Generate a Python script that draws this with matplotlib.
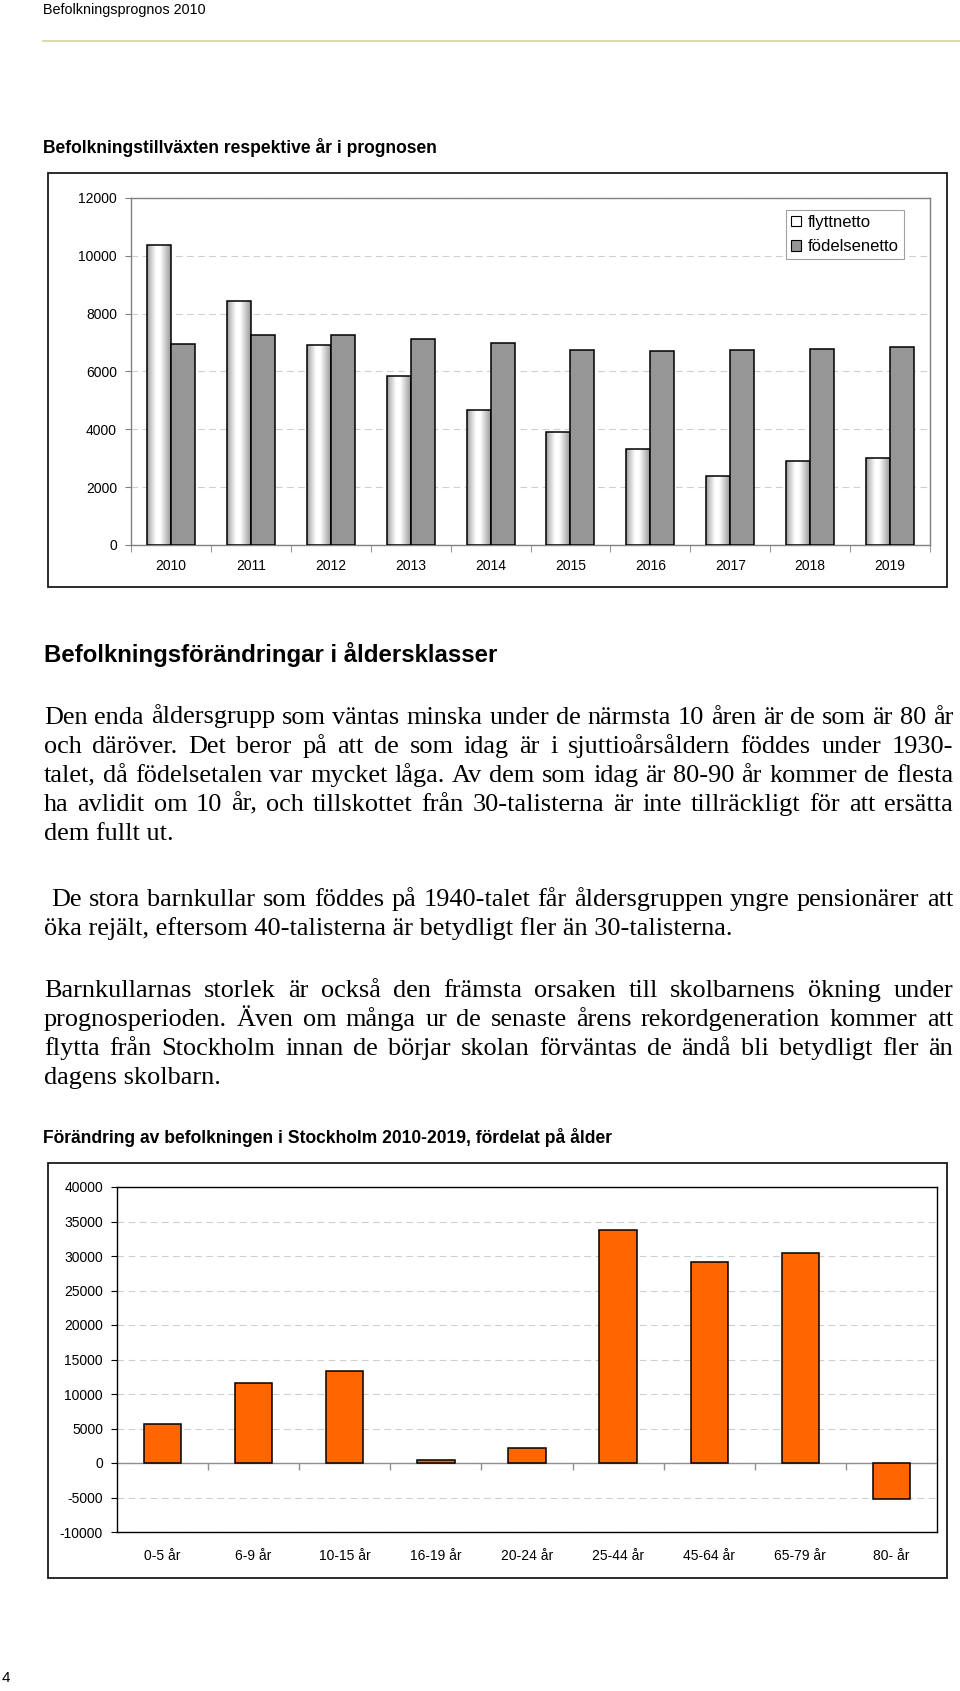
import numpy as np
import matplotlib
matplotlib.use('Agg')
import matplotlib.pyplot as plt
from matplotlib.patches import Rectangle, Patch
from matplotlib.lines import Line2D

W, H = 960, 1691
SANS = 'Liberation Sans'
SERIF = 'Liberation Serif'

# chart 1: befolkningstillväxt per år
years = ['2010', '2011', '2012', '2013', '2014', '2015', '2016', '2017', '2018', '2019']
flyttnetto = [10370, 8450, 6900, 5830, 4670, 3900, 3320, 2370, 2910, 3020]
fodelsenetto = [6950, 7260, 7260, 7130, 6980, 6750, 6720, 6750, 6790, 6830]
series_labels = ['flyttnetto', 'födelsenetto']

# chart 2: förändring per åldersgrupp 2010-2019
age_groups = ['0-5 år', '6-9 år', '10-15 år', '16-19 år', '20-24 år',
              '25-44 år', '45-64 år', '65-79 år', '80- år']
age_change = [5600, 11550, 13350, 480, 2220, 33800, 29100, 30400, -5200]

para1 = ["Den enda åldersgrupp som väntas minska under de närmsta 10 åren är de som är 80 år",
         "och däröver. Det beror på att de som idag är i sjuttioårsåldern föddes under 1930-",
         "talet, då födelsetalen var mycket låga. Av dem som idag är 80-90 år kommer de flesta",
         "ha avlidit om 10 år, och tillskottet från 30-talisterna är inte tillräckligt för att ersätta",
         "dem fullt ut."]
para2 = ["De stora barnkullar som föddes på 1940-talet får åldersgruppen yngre pensionärer att",
         "öka rejält, eftersom 40-talisterna är betydligt fler än 30-talisterna."]
para3 = ["Barnkullarnas storlek är också den främsta orsaken till skolbarnens ökning under",
         "prognosperioden. Även om många ur de senaste årens rekordgeneration kommer att",
         "flytta från Stockholm innan de börjar skolan förväntas de ändå bli betydligt fler än",
         "dagens skolbarn."]

plt.rcParams['font.family'] = [SANS, 'DejaVu Sans']
plt.rcParams['axes.unicode_minus'] = False

fig = plt.figure(figsize=(W / 100, H / 100), dpi=100)
fig.patch.set_facecolor('white')
renderer = fig.canvas.get_renderer()


def fx(x):
    return x / W


def fy(y):
    return 1 - y / H


def axes_px(left, top, right, bottom):
    return fig.add_axes([fx(left), fy(bottom), (right - left) / W, (bottom - top) / H])


def fit_text(x, y, s, width, **kw):
    """place text at pixel baseline and scale font to given pixel width"""
    t = fig.text(fx(x), fy(y), s, fontsize=10, va='baseline', ha='left', **kw)
    w = t.get_window_extent(renderer).width
    t.set_fontsize(10 * width / w)
    return t


def draw_paragraph(lines, x0, x1, y0, step, size, first_indent=0):
    for i, line in enumerate(lines):
        y = y0 + i * step
        left = x0 + (first_indent if i == 0 else 0)
        if i == len(lines) - 1:
            fig.text(fx(left), fy(y), line, family=SERIF, fontsize=size, va='baseline')
            continue
        words = line.split(' ')
        texts = [fig.text(0, fy(y), w, family=SERIF, fontsize=size, va='baseline') for w in words]
        widths = [t.get_window_extent(renderer).width for t in texts]
        gap = (x1 - left - sum(widths)) / (len(words) - 1)
        x = left
        for t, wd in zip(texts, widths):
            t.set_x(fx(x))
            x += wd + gap


# page header
fit_text(43, 14, 'Befolkningsprognos 2010', 163)
fig.add_artist(Line2D([fx(43), fx(960)], [fy(41), fy(41)], color='#d8d2a0', lw=1.2))

fit_text(43, 153, 'Befolkningstillväxten respektive år i prognosen', 396, weight='bold')

# ---- chart 1 ----
fig.add_artist(Rectangle((fx(48), fy(587)), (947 - 48) / W, (587 - 173) / H, fill=False,
                         ec='#1a1a1a', lw=1.3, transform=fig.transFigure))
ax1 = axes_px(131, 198, 930, 545)
x = np.arange(len(years))
bars_f = ax1.bar(x - 0.15, flyttnetto, 0.3, facecolor='none', edgecolor='black', lw=1.1, zorder=3)
ax1.bar(x + 0.15, fodelsenetto, 0.3, color='#969696', edgecolor='black', lw=1.1, zorder=3)

grad = np.interp(np.linspace(0, 1, 64), [0, 0.08, 0.38, 0.55, 1.0], [0.55, 0.72, 1.0, 1.0, 0.6])
img = np.tile(grad, (2, 1))
for b in bars_f:
    x0, w, h = b.get_x(), b.get_width(), b.get_height()
    im = ax1.imshow(img, extent=(x0, x0 + w, 0, h), aspect='auto', cmap='gray',
                    vmin=0, vmax=1, zorder=2.9, interpolation='bilinear')
    im.set_clip_path(b)

ax1.set_xlim(-0.5, len(years) - 0.5)
ax1.set_ylim(0, 12000)
ax1.set_yticks(range(0, 12001, 2000))
ax1.yaxis.grid(True, ls=(0, (6, 4)), color='#cfcfcf', lw=0.8)
ax1.set_axisbelow(True)
ax1.set_xticks(x, years)
ax1.set_xticks(np.arange(-0.5, len(years), 1), minor=True)
ax1.tick_params(axis='x', which='major', length=0, pad=10, labelsize=10)
ax1.tick_params(axis='x', which='minor', length=5, color='#808080')
ax1.tick_params(axis='y', length=4, color='#808080', pad=6, labelsize=10)
for sp in ax1.spines.values():
    sp.set_color('#808080')
    sp.set_linewidth(1)

handles = [Patch(fc='white', ec='black', lw=0.8), Patch(fc='#969696', ec='black', lw=0.8)]
leg = ax1.legend(handles, series_labels, loc='upper right', bbox_to_anchor=(fx(904), fy(210)),
                 bbox_transform=fig.transFigure, fancybox=False, edgecolor='#a0a0a0',
                 framealpha=1, fontsize=12, handlelength=0.6, handleheight=0.6,
                 handletextpad=0.4, borderpad=0.3, labelspacing=0.55, borderaxespad=0)
leg.get_frame().set_linewidth(0.8)

# ---- text section ----
fit_text(44, 662, 'Befolkningsförändringar i åldersklasser', 456, weight='bold')

probe = fig.text(0, 0, para2[1], family=SERIF, fontsize=10)
serif_size = 10 * 689 / probe.get_window_extent(renderer).width
probe.remove()

draw_paragraph(para1, 44, 953, 723.5, 29, serif_size)
draw_paragraph(para2, 44, 953, 906, 29, serif_size, first_indent=7)
draw_paragraph(para3, 44, 953, 997, 29, serif_size)

# ---- chart 2 ----
fit_text(43, 1143, 'Förändring av befolkningen i Stockholm 2010-2019, fördelat på ålder', 572,
         weight='bold')
fig.add_artist(Rectangle((fx(48), fy(1578)), (947 - 48) / W, (1578 - 1163) / H, fill=False,
                         ec='#1a1a1a', lw=1.3, transform=fig.transFigure))
ax2 = axes_px(117, 1187, 937, 1532)
x2 = np.arange(len(age_groups))
ax2.bar(x2, age_change, 0.41, color='#ff6600', edgecolor='black', lw=1.1, zorder=3)
ax2.set_xlim(-0.5, len(age_groups) - 0.5)
ax2.set_ylim(-10000, 40000)
ax2.set_yticks(range(-10000, 40001, 5000))
ax2.yaxis.grid(True, ls=(0, (6, 4)), color='#cfcfcf', lw=0.8)
ax2.set_axisbelow(True)
ax2.axhline(0, color='#909090', lw=1, zorder=2)
ax2.plot(np.arange(0.5, len(age_groups) - 1, 1), np.zeros(len(age_groups) - 1), ls='none',
         marker=3, ms=5, mew=1, color='#909090', zorder=2)
ax2.set_xticks(x2, age_groups)
ax2.tick_params(axis='x', length=0, pad=12, labelsize=10)
ax2.tick_params(axis='y', length=4, pad=6, labelsize=10)
for sp in ax2.spines.values():
    sp.set_color('black')
    sp.set_linewidth(1)

fig.text(fx(2), fy(1682), '4', fontsize=11, va='baseline')

fig.savefig('out.png', dpi=100)
